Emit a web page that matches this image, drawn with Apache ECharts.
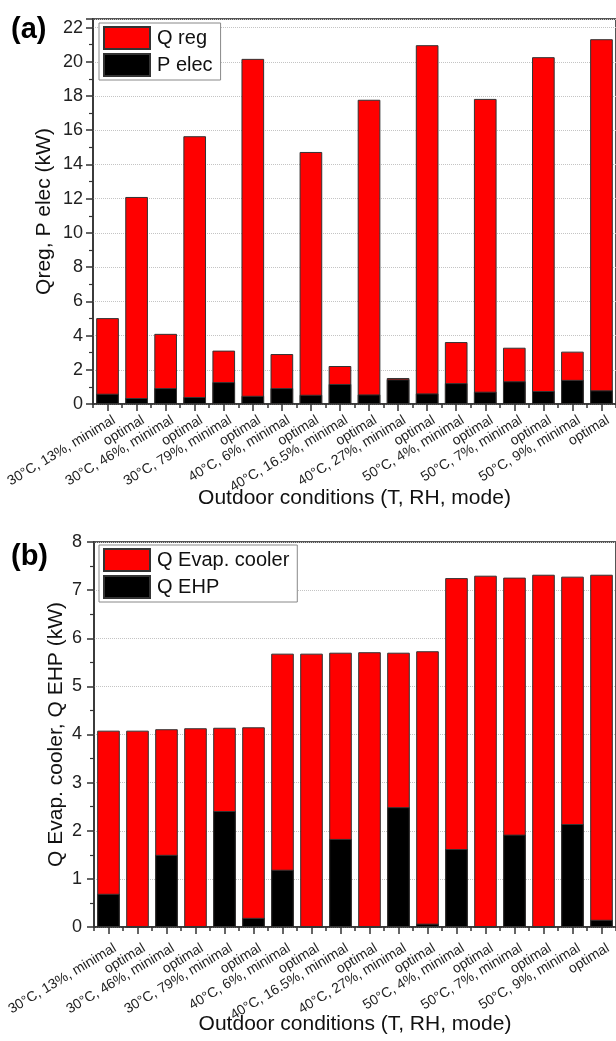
<!DOCTYPE html>
<html>
<head>
<meta charset="utf-8">
<script src="https://cdn.jsdelivr.net/npm/echarts@6/dist/echarts.min.js"></script>
<style>
  html, body { margin: 0; padding: 0; background: #fff; }
  #chart { width: 616px; height: 1041px; }
</style>
</head>
<body>
<div id="chart"></div>
<script>
// Outdoor conditions (T, RH) and operating mode for each bar
const conditions = [
  '30°C, 13%, minimal', 'optimal',
  '30°C, 46%, minimal', 'optimal',
  '30°C, 79%, minimal', 'optimal',
  '40°C, 6%, minimal', 'optimal',
  '40°C, 16.5%, minimal', 'optimal',
  '40°C, 27%, minimal', 'optimal',
  '50°C, 4%, minimal', 'optimal',
  '50°C, 7%, minimal', 'optimal',
  '50°C, 9%, minimal', 'optimal'
];

// (a) regeneration heat and electric power, kW
const qReg  = [5.02, 12.10, 4.10, 15.65, 3.12, 20.17, 2.92, 14.73, 2.22, 17.78, 1.52, 20.97, 3.62, 17.83, 3.29, 20.27, 3.06, 21.32];
const pElec = [0.60, 0.35, 0.93, 0.41, 1.28, 0.48, 0.93, 0.54, 1.17, 0.56, 1.44, 0.62, 1.22, 0.72, 1.33, 0.76, 1.41, 0.80];

// (b) evaporative cooler and EHP cooling, kW
const qEvapCooler = [4.08, 4.08, 4.11, 4.13, 4.14, 4.15, 5.68, 5.68, 5.70, 5.71, 5.70, 5.73, 7.25, 7.30, 7.26, 7.32, 7.28, 7.32];
const qEhp        = [0.69, 0, 1.50, 0, 2.41, 0.19, 1.19, 0, 1.83, 0, 2.49, 0.07, 1.62, 0, 1.92, 0, 2.14, 0.15];

// value-axis ranges
const axisA = { min: 0, max: 22.5, interval: 2 };
const axisB = { min: 0, max: 8, interval: 1 };

const FONT = "'Liberation Sans', Arial, sans-serif";
const AXIS_COLOR = '#333';
const FRAME_COLOR = '#555';

function catAxis(gridIndex, nameGap, labelPad, labelMargin) {
  return {
    type: 'category',
    gridIndex,
    position: 'bottom',
    data: conditions,
    axisLine: { show: true, lineStyle: { color: AXIS_COLOR, width: 1.5 } },
    axisTick: { show: true, alignWithLabel: true, interval: 0, length: 7, lineStyle: { color: AXIS_COLOR, width: 1.5 } },
    axisLabel: {
      interval: 0, rotate: 31, fontSize: 14, fontFamily: FONT, color: '#222',
      verticalAlign: 'top', padding: [labelPad, 0, 0, 0], margin: labelMargin
    },
    splitLine: { show: false },
    name: 'Outdoor conditions (T, RH, mode)',
    nameLocation: 'middle',
    nameGap,
    nameMoveOverlap: false,
    nameTextStyle: { fontSize: 21, fontFamily: FONT, color: '#111' }
  };
}

// minor ticks at the category boundaries
function boundaryAxis(gridIndex) {
  return {
    type: 'category',
    gridIndex,
    position: 'bottom',
    data: conditions,
    axisLine: { show: false },
    axisTick: { show: true, alignWithLabel: false, interval: 0, length: 4, lineStyle: { color: AXIS_COLOR, width: 1.5 } },
    axisLabel: { show: false },
    splitLine: { show: false }
  };
}

function valAxis(gridIndex, range, name, nameGap, labelMargin) {
  return {
    type: 'value',
    gridIndex,
    min: range.min, max: range.max, interval: range.interval,
    axisLine: { show: true, lineStyle: { color: AXIS_COLOR, width: 1.5 } },
    axisTick: { show: true, length: 7, lineStyle: { color: AXIS_COLOR, width: 1.5 } },
    minorTick: { show: true, splitNumber: 2, length: 4, lineStyle: { color: AXIS_COLOR, width: 1.2 } },
    axisLabel: { fontSize: 18, fontFamily: FONT, color: '#222', margin: labelMargin, showMaxLabel: range.max % range.interval === 0 },
    splitLine: { show: true, lineStyle: { color: '#c4c4c4', type: 'dotted', width: 1 } },
    name,
    nameLocation: 'middle',
    nameGap,
    nameMoveOverlap: false,
    nameTextStyle: { fontSize: 21, fontFamily: FONT, color: '#111' }
  };
}

function barSeries(name, data, axisIndex, color) {
  return {
    type: 'bar',
    name,
    data,
    xAxisIndex: axisIndex * 2,
    yAxisIndex: axisIndex,
    barCategoryGap: '22%',
    barGap: '-100%',
    itemStyle: { color, borderColor: '#333', borderWidth: 1 },
    emphasis: { disabled: true },
    animation: false
  };
}

function legendBox(names, left, top) {
  return {
    data: names,
    left, top,
    orient: 'vertical',
    icon: 'rect',
    itemWidth: 46, itemHeight: 22, itemGap: 3,
    padding: [3, 8, 3, 4],
    borderColor: '#888', borderWidth: 1,
    backgroundColor: '#fff',
    selectedMode: false,
    textStyle: { fontSize: 20, fontFamily: FONT, color: '#111', padding: [0, 0, 0, 2] }
  };
}

const chart = echarts.init(document.getElementById('chart'), null, { renderer: 'canvas' });
chart.setOption({
  animation: false,
  backgroundColor: '#fff',
  grid: [
    { left: 93, top: 19, width: 525.6, height: 385, show: true, borderColor: FRAME_COLOR, borderWidth: 2, containLabel: false },
    { left: 94, top: 542, width: 525.6, height: 385, show: true, borderColor: FRAME_COLOR, borderWidth: 2, containLabel: false }
  ],
  xAxis: [
    catAxis(0, 84, 6, 4),
    boundaryAxis(0),
    catAxis(1, 87, 6, 9),
    boundaryAxis(1)
  ],
  yAxis: [
    valAxis(0, axisA, 'Qreg, P elec (kW)', 38, 10),
    valAxis(1, axisB, 'Q Evap. cooler, Q EHP (kW)', 27, 12)
  ],
  legend: [
    legendBox(['Q reg', 'P elec'], 99, 23),
    legendBox(['Q Evap. cooler', 'Q EHP'], 99, 545)
  ],
  series: [
    barSeries('Q reg', qReg, 0, '#ff0000'),
    barSeries('P elec', pElec, 0, '#000000'),
    barSeries('Q Evap. cooler', qEvapCooler, 1, '#ff0000'),
    barSeries('Q EHP', qEhp, 1, '#000000')
  ],
  graphic: [
    { type: 'text', left: 11, top: 15, style: { text: '(a)', font: 'bold 29px ' + FONT, fill: '#000' } },
    { type: 'text', left: 11, top: 542, style: { text: '(b)', font: 'bold 29px ' + FONT, fill: '#000' } }
  ]
});
</script>
</body>
</html>
